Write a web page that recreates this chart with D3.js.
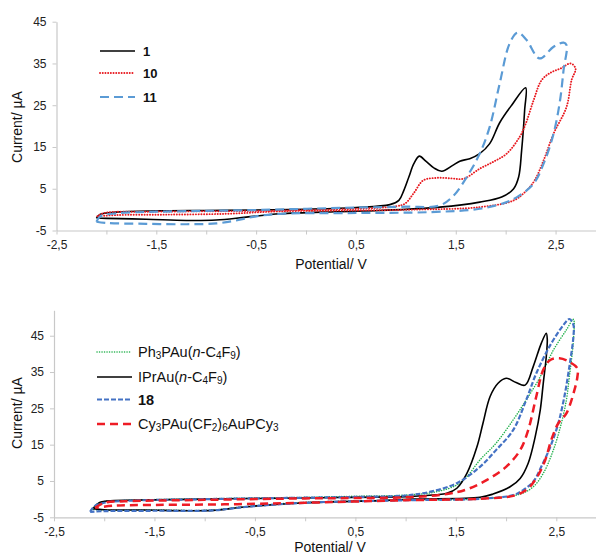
<!DOCTYPE html>
<html><head><meta charset="utf-8">
<script src="https://cdn.jsdelivr.net/npm/d3@7"></script>
<style>
body{margin:0;background:#fff}
svg{display:block}
text{font-family:"Liberation Sans",Arial,Helvetica,sans-serif}
</style>
</head><body>
<svg id="chart" width="596" height="557"></svg>
<script>
// ---------- Tick values ----------
const xTicks = [-2.5,-2,-1.5,-1,-0.5,0,0.5,1,1.5,2,2.5];
const xTickLabels = ["-2,5","","-1,5","","-0,5","","0,5","","1,5","","2,5"];
const yTicks = [-5,5,15,25,35,45];
const yTickLabels = ["-5","5","15","25","35","45"];

// ---------- Top panel: compounds 1, 10, 11 ----------
const topNames = ["1","10","11"];
const s1V = [-2.1,-2.06,-1.9,-1.5,-1.0,-0.5,0.0,0.5,0.84,0.93,0.98,1.03,1.08,1.135,1.2,1.28,1.36,1.47,1.54,1.64,1.74,1.84,1.94,2.06,2.2,
             2.19,2.16,2.13,2.08,1.96,1.74,1.34,0.74,0.3,-0.26,-0.6,-0.9,-1.2,-1.6,-2.0,-2.1];
const s1I = [-2.0,-1.1,-0.6,-0.3,-0.2,-0.1,0.1,0.5,1.2,2.2,4.6,7.8,11.0,12.8,11.6,10.0,9.2,10.6,11.6,12.2,13.4,15.8,20.8,25.0,29.2,
             23.8,14.2,7.8,5.0,3.0,1.8,0.6,-0.2,-0.5,-1.0,-1.8,-2.5,-2.6,-2.3,-2.1,-2.0];
const s10V = [-2.09,-2.02,-1.6,-1.0,-0.5,0.0,0.5,0.9,0.99,1.075,1.175,1.31,1.45,1.58,1.74,1.88,2.01,2.14,2.2,2.28,2.36,2.45,2.55,2.65,2.70,
              2.66,2.61,2.48,2.38,2.29,2.21,2.08,1.74,1.075,0.5,-0.26,-0.8,-1.4,-1.9,-2.09];
const s10I = [-1.6,-0.8,-0.5,-0.4,-0.3,-0.1,0.2,0.8,1.4,3.8,7.0,7.6,7.5,7.4,9.8,11.5,13.4,17.4,20.5,26.2,31.0,32.8,33.8,35.0,33.8,
              31.0,24.6,18.2,11.8,7.0,4.6,2.2,0.6,0.0,-0.2,-0.4,-1.0,-1.2,-1.3,-1.6];
const s11V = [-2.1,-2.06,-1.9,-1.5,-1.0,-0.5,0.0,0.5,1.0,1.34,1.48,1.61,1.74,1.84,1.94,2.04,2.12,2.21,2.34,2.48,2.58,2.61,
              2.58,2.545,2.48,2.38,2.28,2.14,2.01,1.74,1.24,0.5,-0.26,-0.5,-0.7,-0.9,-1.2,-1.6,-2.0,-2.1];
const s11I = [-2.9,-1.6,-0.9,-0.5,-0.3,-0.1,0.2,0.5,0.7,1.0,3.4,7.8,13.4,19.8,30.2,39.8,42.4,40.6,36.2,39.0,40.0,39.4,
              33.4,26.2,18.2,11.0,6.2,3.4,1.8,0.2,-0.6,-0.8,-1.0,-1.6,-2.6,-3.3,-3.5,-3.4,-3.2,-2.9];

// ---------- Bottom panel ----------
const botNames = ["Ph3PAu(n-C4F9)","IPrAu(n-C4F9)","18","Cy3PAu(CF2)6AuPCy3"];
const gV = [-2.12,-2.05,-1.8,-1.0,0.0,0.5,1.0,1.3,1.51,1.61,1.74,1.9,2.07,2.2,2.34,2.47,2.6,2.67,
            2.67,2.63,2.6,2.55,2.47,2.37,2.27,2.14,1.74,1.0,0.0,-0.58,-0.92,-1.5,-2.0,-2.12];
const gI = [-2.8,-1.0,-0.4,0.1,0.5,0.8,1.1,2.0,3.9,6.2,10.8,15.4,21.8,27.3,33.7,41.0,46.6,49.5,
            43.8,33.7,27.3,20.9,13.5,7.1,3.4,1.4,0.1,-0.3,-0.9,-2.0,-3.0,-3.0,-3.0,-2.8];
const kV = [-2.11,-2.05,-1.9,-1.5,-0.77,0.0,0.5,1.0,1.3,1.41,1.51,1.61,1.71,1.77,1.84,1.92,2.0,2.10,2.19,2.27,2.35,2.40,
            2.41,2.40,2.37,2.34,2.29,2.22,2.14,2.04,1.87,1.74,1.08,0.74,0.0,-0.58,-0.92,-1.15,-1.6,-2.0,-2.11];
const kI = [-2.6,-1.0,-0.4,-0.2,0.1,0.3,0.5,0.7,1.2,1.6,3.0,7.1,14.4,20.9,28.2,31.9,33.3,32.1,31.4,36.5,42.9,45.7,
            44.0,39.2,31.9,24.5,17.2,9.9,5.7,3.4,1.4,0.5,0.0,-0.4,-1.0,-2.1,-3.1,-3.2,-3.0,-2.9,-2.6];
const bV = [-2.14,-2.1,-2.0,-1.8,-1.0,0.0,0.5,1.0,1.24,1.51,1.74,1.9,2.07,2.2,2.30,2.44,2.57,2.63,2.67,
            2.67,2.63,2.58,2.52,2.44,2.35,2.27,2.17,2.07,1.74,1.0,0.0,-0.58,-0.92,-1.5,-2.0,-2.14];
const bI = [-3.5,-2.0,-1.0,-0.5,0.0,0.4,0.6,1.0,2.0,4.4,8.9,13.5,19.0,27.3,34.6,42.4,47.9,49.6,48.0,
            44.7,36.5,28.2,20.9,14.4,8.9,4.8,2.5,1.1,0.1,-0.3,-1.0,-2.1,-3.1,-3.2,-3.3,-3.5];
const rV = [-2.09,-2.0,-1.8,-1.0,0.0,0.5,1.0,1.41,1.61,1.81,2.0,2.14,2.22,2.30,2.37,2.44,2.53,2.63,2.71,2.71,
            2.68,2.6,2.52,2.45,2.39,2.30,2.20,2.07,1.74,1.0,0.0,-0.5,-1.0,-1.5,-1.9,-2.09];
const rI = [-2.4,-1.0,-0.6,-0.2,0.2,0.3,0.5,1.4,2.7,5.3,8.9,13.5,19.0,28.2,35.6,38.3,38.8,37.8,36.0,33.7,
            30.0,23.6,20.9,16.3,10.8,5.7,2.5,0.9,0.1,-0.3,-1.0,-1.3,-1.5,-1.6,-1.8,-2.4];

const svg = d3.select("#chart");

function zip(V, I){ return V.map((v,k)=>({v:v, i:I[k]})); }

function panel(o){
  const x = d3.scaleLinear().domain([-2.5, 2.9]).range(o.xr);
  const y = d3.scaleLinear().domain(o.yd).range(o.yr);
  const g = svg.append("g");
  const ya = g.append("g").attr("transform", `translate(${o.xr[0]},0)`)
    .call(d3.axisLeft(y).tickValues(yTicks).tickFormat((d,k)=>yTickLabels[k]).tickSize(4).tickSizeOuter(0).tickPadding(6));
  const xa = g.append("g").attr("transform", `translate(0,${o.yr[0]})`)
    .call(d3.axisBottom(x).tickValues(xTicks).tickFormat((d,k)=>xTickLabels[k]).tickSize(4).tickSizeOuter(0).tickPadding(6));
  [ya, xa].forEach(a=>{
    a.select(".domain").attr("stroke","#c8c8c8").attr("stroke-width",1.2);
    a.selectAll(".tick line").attr("stroke","#c8c8c8");
    a.selectAll(".tick text").attr("fill","#222").style("font-size","12px").style("font-family","'Liberation Sans',Arial,sans-serif");
  });
  g.append("text").attr("x", o.xt[0]).attr("y", o.xt[1]).attr("text-anchor","middle")
    .style("font-size","14px").attr("fill","#111").text("Potential/ V");
  g.append("text").attr("transform", `translate(${o.yt[0]},${o.yt[1]}) rotate(-90)`).attr("text-anchor","middle")
    .attr("dy","0.35em").style("font-size","14px").attr("fill","#111").text("Current/ µA");
  const line = d3.line().x(d=>x(d.v)).y(d=>y(d.i)).curve(d3.curveCatmullRom.alpha(0.5));
  o.series.forEach(s=>{
    g.append("path").attr("d", line(zip(s.V, s.I))).attr("fill","none")
      .attr("stroke", s.c).attr("stroke-width", s.w).attr("stroke-dasharray", s.dash || null)
      .attr("stroke-linejoin","round").attr("stroke-linecap", s.cap || "butt");
  });
  return g;
}

const topSeries = [
  {V:s1V, I:s1I, c:"#000000", w:1.6},
  {V:s10V, I:s10I, c:"#e8191f", w:1.9, dash:"0.1 2.6", cap:"round"},
  {V:s11V, I:s11I, c:"#5b9bd5", w:2.2, dash:"9 5"}
];
panel({xr:[56.5,595.5], yd:[-5,45], yr:[230.5,21.7], xt:[331,269], yt:[17,127], series:topSeries});

// top legend
[51,73,97].forEach((yy,k)=>{
  const st = topSeries[k];
  svg.append("line").attr("x1",100).attr("x2",135).attr("y1",yy).attr("y2",yy)
    .attr("stroke",st.c).attr("stroke-width",st.w).attr("stroke-dasharray",st.dash||null).attr("stroke-linecap",st.cap||"butt");
  svg.append("text").attr("x",143).attr("y",yy+5).style("font-size","13px").style("font-weight","bold").attr("fill","#111").text(topNames[k]);
});

const botSeries = [
  {V:gV, I:gI, c:"#22b14c", w:1.5, dash:"0.1 2.4", cap:"round"},
  {V:kV, I:kI, c:"#000000", w:1.6},
  {V:bV, I:bI, c:"#4472c4", w:2.2, dash:"5 2"},
  {V:rV, I:rI, c:"#ee1c25", w:2.5, dash:"8 5"}
];
panel({xr:[54,596.5], yd:[-5,52], yr:[517.3,310.3], xt:[330,552], yt:[17,413], series:botSeries});

// bottom legend with subscripts
const botLegParts = [
  [["Ph",""],["3","s"],["PAu(",""],["n","i"],["-C",""],["4","s"],["F",""],["9","s"],[")",""]],
  [["IPrAu(",""],["n","i"],["-C",""],["4","s"],["F",""],["9","s"],[")",""]],
  [["18","b"]],
  [["Cy",""],["3","s"],["PAu(CF",""],["2","s"],[")",""],["6","s"],["AuPCy",""],["3","s"]]
];
[352,377,399.5,424].forEach((yy,k)=>{
  const st = botSeries[k];
  svg.append("line").attr("x1",97).attr("x2",132).attr("y1",yy).attr("y2",yy)
    .attr("stroke",st.c).attr("stroke-width",st.w).attr("stroke-dasharray",st.dash||null).attr("stroke-linecap",st.cap||"butt");
  const t = svg.append("text").attr("x",138).attr("y",yy+5).style("font-size","14.5px").attr("fill","#111");
  let shifted = false;
  botLegParts[k].forEach(p=>{
    const ts = t.append("tspan").text(p[0]);
    if(p[1]==="s"){ ts.style("font-size","10px"); if(!shifted){ts.attr("dy",2); shifted=true;} }
    else { if(shifted){ts.attr("dy",-2); shifted=false;} }
    if(p[1]==="i") ts.style("font-style","italic");
    if(p[1]==="b") ts.style("font-weight","bold");
  });
});
</script>
</body></html>
